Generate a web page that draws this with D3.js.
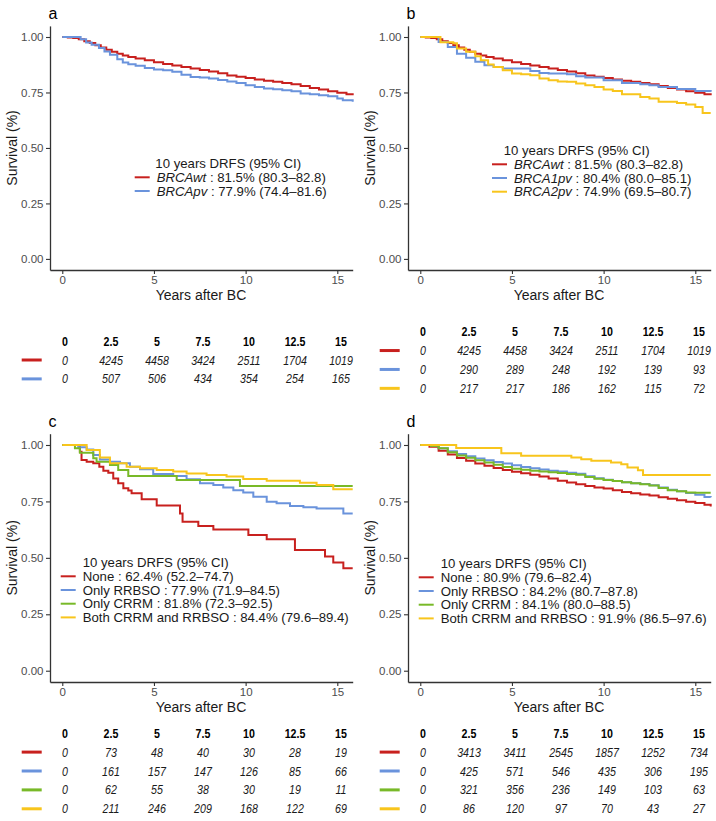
<!DOCTYPE html>
<html>
<head>
<meta charset="utf-8">
<script src="https://d3js.org/d3.v7.min.js"></script>
<style>
body { margin: 0; background: #fff; }
text { font-family: "Liberation Sans", Arial, sans-serif; }
</style>
</head>
<body>
<svg id="fig" width="716" height="821"></svg>
<script>

// Kaplan-Meier curves: [years, survival]
var brcaWt = [[0,1],[0.3,0.998],[0.6,0.995],[0.9,0.99],[1.2,0.981],[1.5,0.973],[1.8,0.963],[2.1,0.953],[2.4,0.943],[2.7,0.934],[3,0.925],[3.3,0.917],[3.6,0.91],[4,0.903],[4.5,0.895],[5,0.886],[5.5,0.878],[6,0.872],[6.5,0.865],[7,0.858],[7.5,0.851],[8,0.844],[8.5,0.837],[9,0.827],[9.5,0.821],[10,0.815],[10.5,0.809],[11,0.803],[11.5,0.798],[12,0.793],[12.5,0.787],[13,0.779],[13.5,0.77],[14,0.763],[14.5,0.756],[15,0.749],[15.5,0.742],[15.84,0.738]];
var brcaPv = [[0,1],[0.9,1],[1,0.99],[1.3,0.975],[1.6,0.965],[2,0.95],[2.3,0.935],[2.6,0.92],[3,0.9],[3.3,0.885],[3.6,0.877],[4,0.87],[4.5,0.86],[5,0.853],[5.5,0.85],[6,0.843],[6.5,0.83],[7,0.82],[7.5,0.818],[8,0.813],[8.5,0.806],[9,0.8],[9.5,0.793],[10,0.783],[10.5,0.775],[11,0.768],[11.5,0.765],[12,0.76],[12.5,0.755],[13,0.745],[13.5,0.742],[14,0.738],[14.5,0.733],[15,0.723],[15.3,0.715],[15.84,0.708]];
var brca1Pv = [[0,1],[0.9,1],[1,0.977],[1.5,0.955],[2,0.925],[2.5,0.907],[3,0.888],[3.5,0.873],[4,0.865],[4.5,0.858],[6,0.847],[6.5,0.838],[7,0.835],[8,0.832],[8.5,0.823],[9,0.817],[10,0.805],[11,0.793],[12,0.787],[12.5,0.783],[13,0.775],[14,0.766],[15,0.757],[15.84,0.753]];
var brca2Pv = [[0,1],[1,1],[1.1,0.976],[1.8,0.972],[2,0.948],[2.5,0.933],[3,0.913],[3.3,0.895],[3.7,0.876],[4,0.865],[4.5,0.85],[5,0.835],[5.5,0.832],[6,0.828],[6.5,0.813],[7,0.805],[7.5,0.8],[8,0.798],[8.5,0.79],[9,0.783],[9.5,0.775],[10,0.763],[10.5,0.757],[11,0.742],[12,0.73],[12.5,0.723],[13,0.708],[14,0.703],[14.5,0.696],[15,0.685],[15.4,0.658],[15.84,0.658]];

var pvNone = [[0,1],[0.96,0.97],[1.05,0.933],[1.33,0.926],[1.69,0.919],[2.02,0.904],[2.24,0.886],[2.51,0.877],[2.78,0.852],[3.05,0.83],[3.33,0.808],[3.6,0.798],[3.78,0.786],[4.33,0.76],[5.15,0.732],[6.42,0.697],[6.56,0.66],[7.42,0.641],[8.24,0.626],[10.15,0.601],[11.15,0.582],[12.69,0.535],[14.33,0.506],[14.78,0.479],[15.33,0.454],[15.84,0.454]];
var pvRrbso = [[0,1],[0.87,0.99],[1.33,0.98],[1.69,0.956],[2.05,0.936],[2.6,0.926],[3.15,0.919],[3.69,0.904],[4.24,0.892],[4.96,0.871],[6.05,0.863],[6.78,0.848],[7.51,0.83],[8.24,0.823],[8.78,0.812],[9.33,0.8],[9.87,0.789],[10.42,0.771],[11.15,0.749],[11.69,0.742],[12.42,0.73],[13.15,0.724],[13.87,0.719],[15.33,0.697],[15.84,0.697]];
var pvCrrm = [[0,1],[0.69,0.985],[0.96,0.966],[1.69,0.941],[1.87,0.926],[2.6,0.911],[3.05,0.889],[3.6,0.863],[6.24,0.845],[9.69,0.818],[15.84,0.818]];
var pvBoth = [[0,1],[1.33,0.978],[2.05,0.945],[2.6,0.919],[3.51,0.904],[4.24,0.897],[5.15,0.889],[6.05,0.882],[6.78,0.874],[7.87,0.867],[8.96,0.86],[9.87,0.849],[11.15,0.842],[12.96,0.833],[13.87,0.823],[14.78,0.804],[15.84,0.804]];

var wtNone = [[0,1],[0.5,0.992],[1,0.975],[1.5,0.958],[2,0.942],[2.5,0.93],[3,0.918],[3.5,0.908],[4,0.898],[4.5,0.889],[5,0.881],[5.5,0.875],[6,0.868],[6.5,0.86],[7,0.851],[7.5,0.842],[8,0.834],[8.5,0.826],[9,0.818],[9.5,0.812],[10,0.807],[10.5,0.8],[11,0.792],[11.5,0.786],[12,0.781],[12.5,0.776],[13,0.769],[13.5,0.762],[14,0.755],[14.5,0.749],[15,0.743],[15.5,0.735],[15.84,0.728]];
var wtRrbso = [[0,1],[0.6,0.995],[1,0.985],[1.5,0.972],[2,0.96],[2.5,0.95],[3,0.94],[3.5,0.932],[4,0.925],[4.5,0.918],[5,0.91],[5.5,0.903],[6,0.897],[6.5,0.891],[7,0.886],[7.5,0.882],[8,0.877],[8.5,0.873],[9,0.862],[9.5,0.853],[10,0.846],[10.5,0.84],[11,0.835],[11.5,0.831],[12,0.827],[12.5,0.822],[13,0.812],[13.5,0.802],[14,0.795],[14.5,0.787],[15,0.779],[15.5,0.77],[15.84,0.768]];
var wtCrrm = [[0,1],[0.6,0.995],[1,0.985],[1.5,0.968],[2,0.953],[2.5,0.943],[3,0.932],[3.5,0.922],[4,0.912],[4.5,0.903],[5,0.895],[5.5,0.89],[6,0.886],[6.5,0.883],[7,0.879],[7.5,0.876],[8,0.872],[8.5,0.868],[9,0.858],[9.5,0.85],[10,0.845],[10.5,0.84],[11,0.835],[11.5,0.83],[12,0.826],[12.5,0.821],[13,0.81],[13.5,0.8],[14,0.795],[14.5,0.79],[15,0.788],[15.84,0.788]];
var wtBoth = [[0,1],[1.96,0.987],[4.42,0.963],[5.5,0.952],[7.5,0.952],[8.24,0.945],[8.78,0.937],[9.33,0.93],[10.4,0.922],[10.96,0.915],[11.3,0.9],[11.87,0.888],[12.15,0.867],[15.84,0.867]];

// legend texts: [italic part, plain part]
var labelsA = [["BRCAwt", " : 81.5% (80.3\u201382.8)"], ["BRCApv", " : 77.9% (74.4\u201381.6)"]];
var labelsB = [["BRCAwt", " : 81.5% (80.3\u201382.8)"], ["BRCA1pv", " : 80.4% (80.0\u201385.1)"], ["BRCA2pv", " : 74.9% (69.5\u201380.7)"]];
var labelsC = [["", "None : 62.4% (52.2\u201374.7)"], ["", "Only RRBSO : 77.9% (71.9\u201384.5)"], ["", "Only CRRM : 81.8% (72.3\u201392.5)"], ["", "Both CRRM and RRBSO : 84.4% (79.6\u201389.4)"]];
var labelsD = [["", "None : 80.9% (79.6\u201382.4)"], ["", "Only RRBSO : 84.2% (80.7\u201387.8)"], ["", "Only CRRM : 84.1% (80.0\u201388.5)"], ["", "Both CRRM and RRBSO : 91.9% (86.5\u201397.6)"]];

// numbers at risk
var riskTimes = [0, 2.5, 5, 7.5, 10, 12.5, 15];
var riskA = [[0,4245,4458,3424,2511,1704,1019],[0,507,506,434,354,254,165]];
var riskB = [[0,4245,4458,3424,2511,1704,1019],[0,290,289,248,192,139,93],[0,217,217,186,162,115,72]];
var riskC = [[0,73,48,40,30,28,19],[0,161,157,147,126,85,66],[0,62,55,38,30,19,11],[0,211,246,209,168,122,69]];
var riskD = [[0,3413,3411,2545,1857,1252,734],[0,425,571,546,435,306,195],[0,321,356,236,149,103,63],[0,86,120,97,70,43,27]];

var xTicks = [0, 5, 10, 15];
var yTicks = [0, 0.25, 0.5, 0.75, 1];

var red = "#c8201e", blue = "#6a93dc", green = "#78b928", yellow = "#f8c51c";

var svg = d3.select("#fig");

var panels = [
  {id: "a", ox: 0,   top: 25.9,  bottom: 270, curves: [brcaWt, brcaPv], colors: [red, blue], labels: labelsA, titleX: 155.3, textX: 156.7, legY: 163.5, risk: riskA, riskMid: 360},
  {id: "b", ox: 358, top: 25.9,  bottom: 270, curves: [brcaWt, brca1Pv, brca2Pv], colors: [red, blue, yellow], labels: labelsB, titleX: 145.7, textX: 156, legY: 150.5, risk: riskB, riskMid: 360},
  {id: "c", ox: 0,   top: 433.7, bottom: 682, curves: [pvNone, pvRrbso, pvCrrm, pvBoth], colors: [red, blue, green, yellow], labels: labelsC, titleX: 82.7, textX: 82.7, legY: 562.5, risk: riskC, riskMid: 771},
  {id: "d", ox: 358, top: 433.7, bottom: 682, curves: [wtNone, wtRrbso, wtCrrm, wtBoth], colors: [red, blue, green, yellow], labels: labelsD, titleX: 82.7, textX: 82.7, legY: 563.5, risk: riskD, riskMid: 771}
];

// the table numbers look like a narrow face, squeeze a regular one
var squeeze = function(xv, yv) {
  return "translate(" + xv + "," + yv + ") scale(0.82,1)";
};

var drawPanel = function(p) {
  var g = svg.append("g").attr("transform", "translate(" + p.ox + ",0)");

  var x = d3.scaleLinear().domain([-0.67, 15.84]).range([50, 352.7]);
  var y = d3.scaleLinear().domain([-0.05, 1.05]).range([p.bottom, p.top]);

  // curves
  var line = d3.line()
    .curve(d3.curveStepAfter)
    .x(function(d) { return x(d[0]); })
    .y(function(d) { return y(d[1]); });

  p.curves.forEach(function(c, i) {
    g.append("path")
      .attr("d", line(c))
      .attr("fill", "none")
      .attr("stroke", p.colors[i])
      .attr("stroke-width", 2);
  });

  // axes
  var yAxis = g.append("g")
    .attr("transform", "translate(50,0)")
    .call(d3.axisLeft(y).tickValues(yTicks).tickFormat(d3.format(".2f")).tickSize(4).tickSizeOuter(0).tickPadding(2.5));
  var xAxis = g.append("g")
    .attr("transform", "translate(0," + p.bottom + ")")
    .call(d3.axisBottom(x).tickValues(xTicks).tickSize(4).tickSizeOuter(0).tickPadding(1.5));
  [xAxis, yAxis].forEach(function(a) {
    a.select(".domain").attr("stroke", "#333").attr("stroke-width", 1.3);
    a.selectAll(".tick line").attr("stroke", "#333").attr("stroke-width", 1.1);
    a.selectAll(".tick text").attr("fill", "#4d4d4d").style("font-size", "11.5px")
      .style("font-family", "'Liberation Sans', Arial, sans-serif");
  });

  g.append("text")
    .attr("x", 201).attr("y", p.bottom + 25.5).attr("dy", "0.35em")
    .attr("text-anchor", "middle").attr("fill", "#1a1a1a")
    .style("font-size", "14px").text("Years after BC");

  g.append("text")
    .attr("transform", "translate(12," + ((p.top + p.bottom) / 2) + ") rotate(-90)")
    .attr("dy", "0.35em").attr("text-anchor", "middle").attr("fill", "#1a1a1a")
    .style("font-size", "14px").text("Survival (%)");

  g.append("text")
    .attr("x", 48.5).attr("y", p.top - 12.5).attr("dy", "0.35em")
    .attr("fill", "#000").style("font-size", "16px").text(p.id);

  // legend
  g.append("text")
    .attr("x", p.titleX).attr("y", p.legY).attr("dy", "0.35em")
    .attr("fill", "#1a1a1a").style("font-size", "13.2px").text("10 years DRFS (95% CI)");
  p.labels.forEach(function(l, i) {
    var ly = p.legY + 13.8 + i * 13.7;
    g.append("line")
      .attr("x1", p.textX - 22).attr("x2", p.textX - 7)
      .attr("y1", ly).attr("y2", ly)
      .attr("stroke", p.colors[i]).attr("stroke-width", 2);
    var t = g.append("text")
      .attr("x", p.textX).attr("y", ly).attr("dy", "0.35em")
      .attr("fill", "#1a1a1a").style("font-size", "13.2px");
    if (l[0]) t.append("tspan").style("font-style", "italic").text(l[0]);
    t.append("tspan").text(l[1]);
  });

  // numbers at risk table
  var tx = d3.scaleLinear().domain([0, 15]).range([65, 341]);
  var rowGap = 18.9;
  var headY = p.riskMid - p.risk.length * rowGap / 2;

  g.selectAll(".head").data(riskTimes).enter().append("text")
    .attr("transform", function(d) { return squeeze(tx(d), headY); })
    .attr("dy", "0.35em")
    .attr("text-anchor", "middle").attr("fill", "#000")
    .style("font-size", "13px").style("font-weight", "bold")
    .text(function(d) { return d; });

  p.risk.forEach(function(row, i) {
    var ry = headY + (i + 1) * rowGap;
    g.append("line")
      .attr("x1", 21.7).attr("x2", 41.7)
      .attr("y1", ry).attr("y2", ry)
      .attr("stroke", p.colors[i]).attr("stroke-width", 3);
    g.selectAll(".r" + i).data(row).enter().append("text")
      .attr("transform", function(d, j) { return squeeze(tx(riskTimes[j]), ry); })
      .attr("dy", "0.35em")
      .attr("text-anchor", "middle").attr("fill", "#1a1a1a")
      .style("font-size", "13px").style("font-style", "italic")
      .text(function(d) { return d; });
  });
};

panels.forEach(drawPanel);

</script>
</body>
</html>
